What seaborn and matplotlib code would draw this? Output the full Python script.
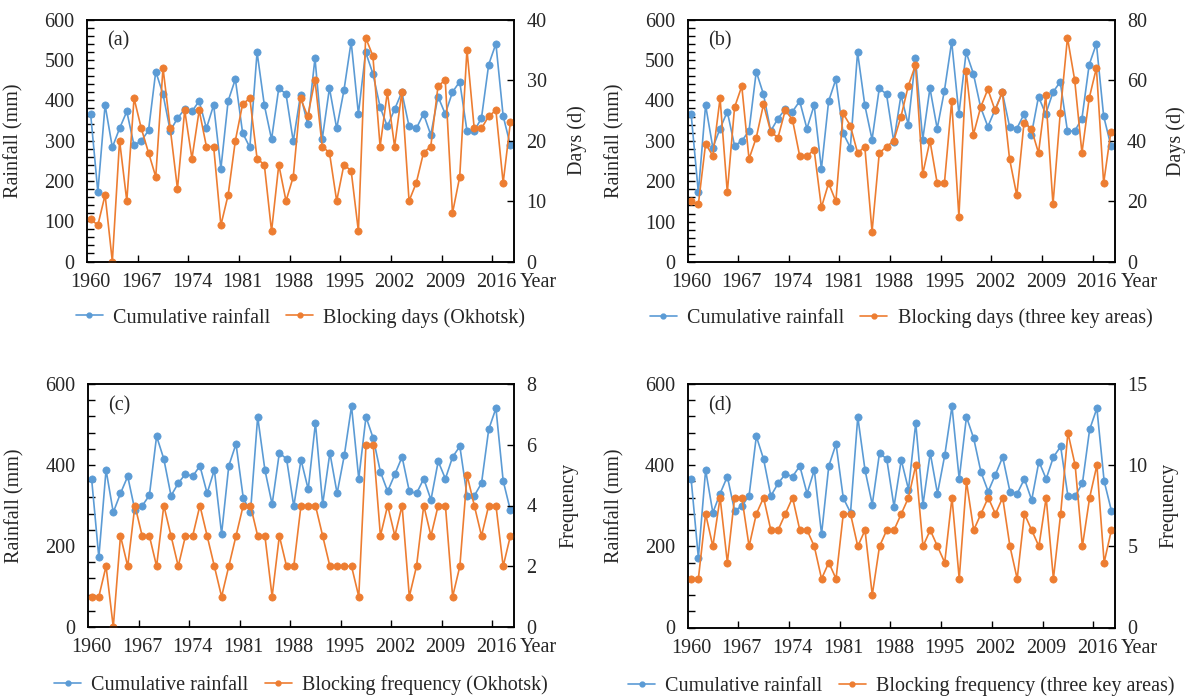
import numpy as np
import pandas as pd
import matplotlib
matplotlib.use("Agg")
import matplotlib.pyplot as plt
import seaborn as sns
from matplotlib.lines import Line2D
from matplotlib.ticker import NullLocator

# ---------------- data ----------------
years = list(range(1960, 2019))

rainfall = [366, 172, 388, 283, 330, 372, 288, 299, 325, 471,
            415, 324, 355, 378, 372, 398, 330, 388, 230, 398,
            452, 319, 283, 519, 388, 303, 430, 415, 298, 413,
            340, 504, 303, 430, 330, 424, 545, 366, 519, 466,
            383, 335, 377, 420, 335, 330, 366, 314, 409, 366,
            420, 446, 324, 324, 355, 488, 540, 361, 288]

days_okhotsk = [7, 6, 11, 0, 20, 10, 27, 22, 18, 14,
                32, 22, 12, 25, 17, 25, 19, 19, 6, 11,
                20, 26, 27, 17, 16, 5, 16, 10, 14, 27,
                24, 30, 19, 18, 10, 16, 15, 5, 37, 34,
                19, 28, 19, 28, 10, 13, 18, 19, 29, 30,
                8, 14, 35, 22, 22, 24, 25, 13, 23]

days_three = [20, 19, 39, 35, 54, 23, 51, 58, 34, 41,
              52, 43, 41, 50, 47, 35, 35, 37, 18, 26,
              20, 49, 45, 36, 38, 10, 36, 38, 40, 48,
              58, 65, 29, 40, 26, 26, 53, 15, 63, 42,
              51, 57, 50, 56, 34, 22, 46, 44, 36, 55,
              19, 49, 74, 60, 36, 54, 64, 26, 43]

freq_okhotsk = [1, 1, 2, 0, 3, 2, 4, 3, 3, 2,
                4, 3, 2, 3, 3, 4, 3, 2, 1, 2,
                3, 4, 4, 3, 3, 1, 3, 2, 2, 4,
                4, 4, 3, 2, 2, 2, 2, 1, 6, 6,
                3, 4, 3, 4, 1, 2, 4, 3, 4, 4,
                1, 2, 5, 4, 3, 4, 4, 2, 3]

freq_three = [3, 3, 7, 5, 8, 4, 8, 8, 5, 7,
              8, 6, 6, 7, 8, 6, 6, 5, 3, 4,
              3, 7, 7, 5, 6, 2, 5, 6, 6, 7,
              8, 10, 5, 6, 5, 4, 8, 3, 9, 6,
              7, 8, 7, 8, 5, 3, 7, 6, 5, 8,
              3, 7, 12, 10, 5, 8, 10, 4, 6]

xtick_years = [1960, 1967, 1974, 1981, 1988, 1995, 2002, 2009, 2016]
xtick_labels = [str(y) for y in xtick_years]

panel_tags = ["(a)", "(b)", "(c)", "(d)"]
right_labels = ["Days (d)", "Days (d)", "Frequency", "Frequency"]
legend_labels = ["Blocking days (Okhotsk)", "Blocking days (three key areas)",
                 "Blocking frequency (Okhotsk)", "Blocking frequency (three key areas)"]
right_series = [days_okhotsk, days_three, freq_okhotsk, freq_three]

# ---------------- style ----------------
sns.set_style("ticks")
plt.rcParams["font.family"] = ["Liberation Serif", "DejaVu Serif"]
BLUE = "#5B9BD5"
ORANGE = "#ED7D31"
FS = 14.5

W, H = 1189, 697
fig = plt.figure(figsize=(W / 100, H / 100), dpi=100)

# pixel boxes (left, top, right, bottom)
boxes = [(87, 19.5, 514, 261.5), (687.5, 19.5, 1114.5, 262),
         (88, 384, 514, 627), (687.5, 384, 1115, 627.5)]
right_lims = [(0, 40, 10), (0, 80, 20), (0, 8, 2), (0, 15, 5)]
left_ticks = [(100, 20), (100, 20), (200, 40), (200, 40)]
rlab_x = [1.124, 1.122, 1.106, 1.105]

for i in range(4):
    l, t, r, b = boxes[i]
    ax = fig.add_axes([l / W, 1 - b / H, (r - l) / W, (b - t) / H])
    df = pd.DataFrame({"Year": years, "Rainfall": rainfall, "Other": right_series[i]})

    sns.lineplot(data=df, x="Year", y="Rainfall", ax=ax, color=BLUE, marker="o",
                 markersize=5.2, markeredgecolor=BLUE, markeredgewidth=0.5,
                 linewidth=1.2, legend=False)
    ax2 = ax.twinx()
    sns.lineplot(data=df, x="Year", y="Other", ax=ax2, color=ORANGE, marker="o",
                 markersize=5.2, markeredgecolor=ORANGE, markeredgewidth=0.5,
                 linewidth=1.2, legend=False)

    ax.set_xlim(1959.5, 2018.5)
    ax.set_ylim(0, 600)
    lo, hi, step = right_lims[i]
    ax2.set_ylim(lo, hi)

    # x axis: labels at categories, tick marks between categories
    ax.set_xticks(xtick_years)
    ax.set_xticklabels(xtick_labels)
    ax.set_xticks([y + 6.5 for y in xtick_years[:-1]], minor=True)
    ax.tick_params(axis="x", which="major", length=0, pad=8, labelsize=FS)
    ax.tick_params(axis="x", which="minor", direction="in", length=5, width=1, color="black")

    major, minor = left_ticks[i]
    ax.set_yticks(np.arange(0, 601, major))
    ax.set_yticks(np.arange(0, 601, minor), minor=True)
    ax.tick_params(axis="y", which="both", direction="in", length=5, width=1,
                   pad=9, labelsize=FS, color="black")

    ax2.set_yticks(np.arange(lo, hi + step / 2, step))
    ax2.yaxis.set_minor_locator(NullLocator())
    ax2.tick_params(axis="y", which="major", direction="in", length=5, width=1,
                    pad=9, labelsize=FS, color="black")

    for a in (ax, ax2):
        for sp in a.spines.values():
            sp.set_color("black")
            sp.set_linewidth(1.1)
            sp.set_visible(True)

    ax.set_xlabel("")
    ax.set_ylabel("Rainfall (mm)", fontsize=FS)
    ax.yaxis.set_label_coords(-0.148, 0.5)
    ax2.set_ylabel(right_labels[i], fontsize=FS)
    ax2.yaxis.set_label_coords(rlab_x[i], 0.5)

    ax.text(0.048, 0.91, panel_tags[i], transform=ax.transAxes, fontsize=FS,
            ha="left", va="center")
    ax.text(1.014, -0.047, "Year", transform=ax.transAxes, fontsize=FS,
            ha="left", va="top")

    handles = [Line2D([0], [0], color=BLUE, lw=1.2, marker="o", markersize=3.5),
               Line2D([0], [0], color=ORANGE, lw=1.2, marker="o", markersize=3.5)]
    ly = -0.232 if i < 2 else -0.24
    ax.legend(handles, ["Cumulative rainfall", legend_labels[i]], loc="center",
              bbox_to_anchor=(0.5, ly), ncol=2, frameon=False, fontsize=FS,
              handlelength=1.35, handletextpad=0.5, columnspacing=0.8)

fig.savefig("out.png", dpi=100)
